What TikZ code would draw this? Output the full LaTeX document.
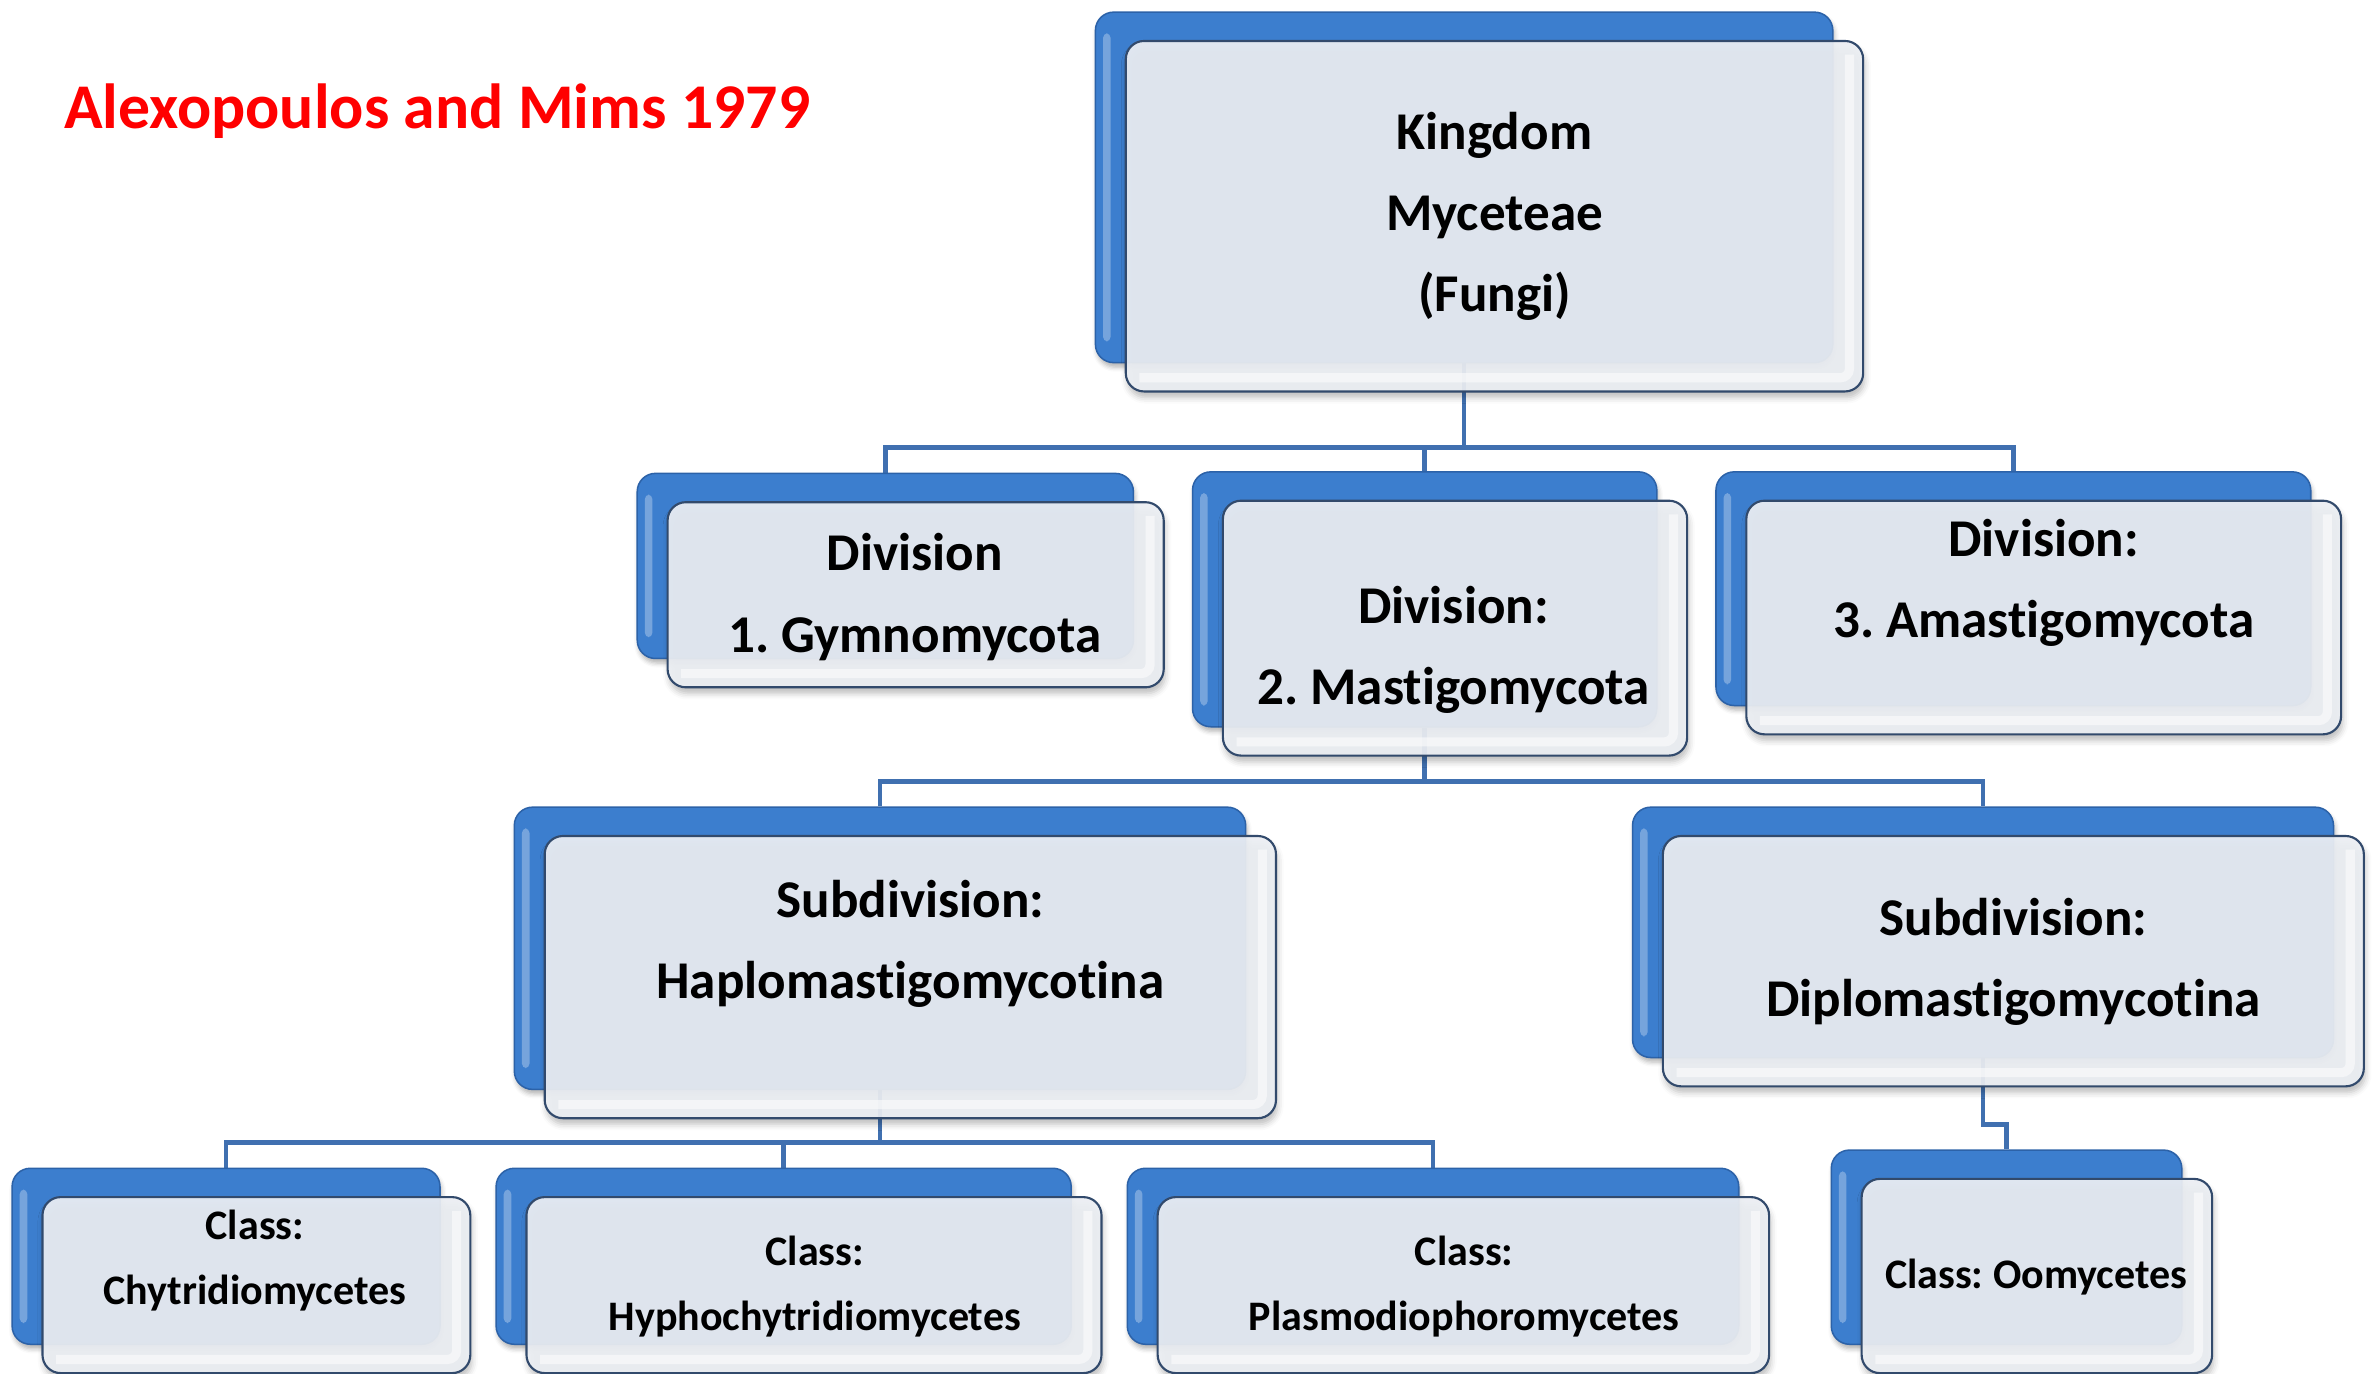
\documentclass[tikz,border=0pt]{standalone}
\usepackage{fontspec}
\setmainfont{Carlito}[Ligatures={NoCommon}]
\usetikzlibrary{shadows.blur}

\definecolor{boxblue}{RGB}{60,126,206}
\definecolor{boxblueedge}{RGB}{44,98,168}
\definecolor{panel}{RGB}{236,239,244}
\definecolor{paneledge}{RGB}{50,74,108}
\definecolor{wire}{RGB}{64,112,176}

\pgfdeclarelayer{wires}
\pgfsetlayers{wires,main}

\tikzset{
  backbox/.style={draw=boxblueedge, line width=1pt, fill=boxblue,
    rounded corners=12pt, inner sep=0pt,
    blur shadow={shadow xshift=1pt, shadow yshift=-3pt, shadow opacity=30, shadow blur radius=3pt},
    path picture={
      \fill[white, opacity=0.3, rounded corners=3pt]
        ([xshift=5pt,yshift=-14pt]path picture bounding box.north west)
        rectangle ([xshift=10pt,yshift=14pt]path picture bounding box.south west);
    }},
  frontbox/.style={draw=paneledge, line width=1.4pt, fill=panel, fill opacity=0.93,
    rounded corners=12pt, inner sep=0pt,
    blur shadow={shadow xshift=1pt, shadow yshift=-4pt, shadow opacity=28, shadow blur radius=4pt},
    path picture={
      \draw[white, line width=6pt, opacity=0.55, rounded corners=6pt]
        ([xshift=-9pt,yshift=-9pt]path picture bounding box.north east)
        -- ([xshift=-9pt,yshift=9pt]path picture bounding box.south east)
        -- ([xshift=9pt,yshift=9pt]path picture bounding box.south west);
    }},
  bigtxt/.style={font=\fontsize{35}{53.5}\selectfont\bfseries, align=center, inner sep=0pt},
  smalltxt/.style={font=\fontsize{27.7}{43}\selectfont\bfseries, align=center, inner sep=0pt},
  titletxt/.style={font=\fontsize{42}{50}\selectfont\bfseries, text=red, inner sep=0pt, anchor=west},
  conn/.style={draw=wire, line width=3pt}
}

% one chart box: blue tab behind, light panel in front
% #1 name, #2 centre x, #3 centre y, #4 width, #5 height
\newcommand\orgbox[5]{%
  \node[backbox, minimum width=#4pt, minimum height=#5pt] (#1b) at (#2-20,#3-19) {};
  \node[frontbox, minimum width=#4pt, minimum height=#5pt] (#1) at (#2,#3) {};
}

\begin{document}
\frenchspacing
\begin{tikzpicture}[x=1pt, y=-1pt]
\useasboundingbox (0,0) rectangle (1568,905);

\node[titletxt] (title) at (42,73) {Alexopoulos and Mims 1979};

% boxes
\orgbox{k}{985}{142.5}{486}{231}
\orgbox{da}{603.5}{392}{327}{122}
\orgbox{dm}{959}{414}{306}{168}
\orgbox{dz}{1347}{407}{392}{154}
\orgbox{sh}{600}{644}{482}{186}
\orgbox{sd}{1327}{633.5}{462}{165}
\orgbox{ca}{169}{847}{282}{116}
\orgbox{cb}{536.5}{847}{379}{116}
\orgbox{cc}{964.5}{847}{403}{116}
\orgbox{co}{1342.5}{841}{231}{128}

% labels
\node[bigtxt] (kt) at (985,142.5) {Kingdom\\Myceteae\\(Fungi)};
\node[bigtxt] (dat) at (603,393.5) {Division\\1. Gymnomycota};
\node[bigtxt] (dmt) at (958,428.5) {Division:\\2. Mastigomycota};
\node[bigtxt] (dzt) at (1347,384) {Division:\\3. Amastigomycota};
\node[bigtxt] (sht) at (600,622) {Subdivision:\\Haplomastigomycotina};
\node[bigtxt] (sdt) at (1327,634) {Subdivision:\\Diplomastigomycotina};
\node[smalltxt] (cat) at (168,831) {Class:\\Chytridiomycetes};
\node[smalltxt] (cbt) at (537,848) {Class:\\Hyphochytridiomycetes};
\node[smalltxt] (cct) at (965,848) {Class:\\Plasmodiophoromycetes};
\node[smalltxt] (cot) at (1342,842) {Class: Oomycetes};

% bus levels
\coordinate (bus1) at (0,295);
\coordinate (bus2) at (0,515);
\coordinate (bus3) at (0,753);
\coordinate (jog) at (0,741);

\begin{pgfonlayer}{wires}
  \draw[conn] (kb.south) -- (kb.south |- bus1) -| (dab.north);
  \draw[conn] (kb.south |- bus1) -| (dmb.north);
  \draw[conn] (kb.south |- bus1) -| (dzb.north);
  \draw[conn] (dmb.south) -- (dmb.south |- bus2) -| (shb.north);
  \draw[conn] (dmb.south |- bus2) -| (sdb.north);
  \draw[conn] (shb.south) -- (shb.south |- bus3) -| (cab.north);
  \draw[conn] (shb.south |- bus3) -| (cbb.north);
  \draw[conn] (shb.south |- bus3) -| (ccb.north);
  \draw[conn] (sdb.south) -- (sdb.south |- jog) -| (cob.north);
\end{pgfonlayer}
\end{tikzpicture}
\end{document}
